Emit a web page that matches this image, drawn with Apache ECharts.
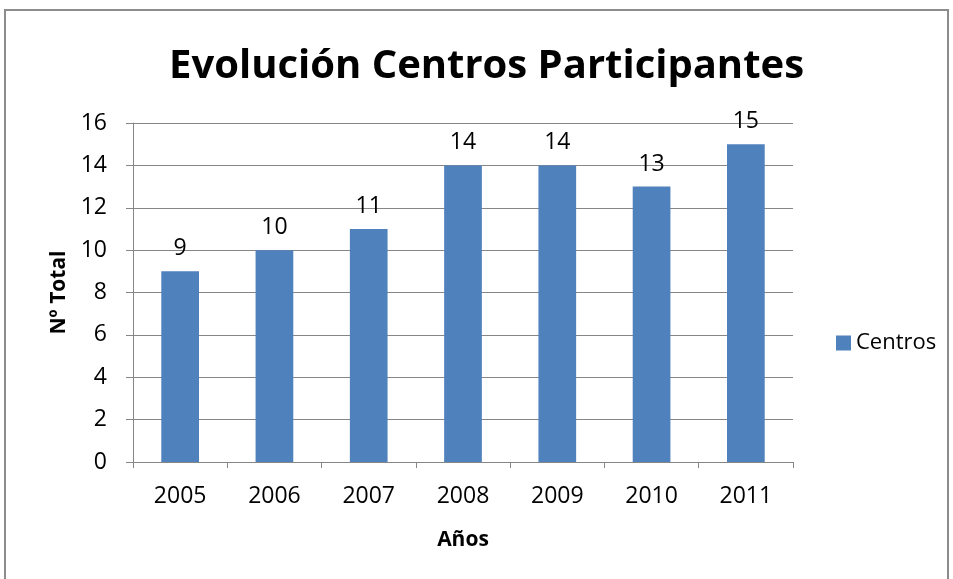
<!DOCTYPE html>
<html>
<head>
<meta charset="utf-8">
<script src="https://cdn.jsdelivr.net/npm/echarts@6/dist/echarts.min.js"></script>
<style>
  html, body { margin: 0; padding: 0; background: #fff; }
  #chart { width: 953px; height: 579px; }
</style>
</head>
<body>
<div id="chart"></div>
<script>
// data
const years = ['2005', '2006', '2007', '2008', '2009', '2010', '2011']
const centros = [9, 10, 11, 14, 14, 13, 15]
const seriesName = 'Centros'

const fontName = "'Open Sans', sans-serif"
const chart = echarts.init(document.getElementById('chart'))

chart.setOption({
  animation: false,
  graphic: [{
    type: 'rect',
    shape: { x: 5, y: 10, width: 943, height: 600 },
    style: { fill: 'none', stroke: '#8c8c8c', lineWidth: 2 },
    silent: true
  }],
  title: {
    left: 164,
    top: 42,
    text: 'Evolución Centros Participantes',
    textStyle: {
      color: '#000',
      fontSize: 40,
      fontWeight: 'bold',
      fontFamily: fontName
    }
  },
  legend: {
    orient: 'vertical',
    left: 831,
    top: 327,
    itemWidth: 15,
    itemHeight: 15,
    itemGap: 6,
    icon: 'rect',
    textStyle: { fontSize: 22, color: '#000', fontFamily: fontName }
  },
  grid: {
    left: 133,
    right: 160,
    top: 123,
    bottom: 117
  },
  xAxis: {
    type: 'category',
    data: years,
    name: 'Años',
    nameLocation: 'middle',
    nameGap: 68,
    nameTextStyle: { fontSize: 21, fontWeight: 'bold', color: '#000', fontFamily: fontName },
    axisLine: { lineStyle: { color: '#868686' } },
    axisTick: { show: true, length: 6, lineStyle: { color: '#868686' } },
    axisLabel: { fontSize: 23, color: '#000', margin: 23, fontFamily: fontName }
  },
  yAxis: {
    type: 'value',
    min: 0,
    max: 16,
    interval: 2,
    name: 'Nº Total',
    nameLocation: 'middle',
    nameGap: 63,
    nameTextStyle: { fontSize: 21, fontWeight: 'bold', color: '#000', fontFamily: fontName },
    axisLine: { show: true, lineStyle: { color: '#868686' } },
    axisTick: { show: true, length: 7, lineStyle: { color: '#868686' } },
    splitLine: { lineStyle: { color: '#868686' } },
    axisLabel: { fontSize: 23, color: '#000', margin: 26, fontFamily: fontName }
  },
  series: [{
    name: seriesName,
    type: 'bar',
    data: centros,
    barWidth: '40%',
    itemStyle: { color: '#4f81bd' },
    label: {
      show: true,
      position: 'top',
      distance: 11,
      fontSize: 23,
      color: '#000',
      fontFamily: fontName
    }
  }]
})
</script>
</body>
</html>
